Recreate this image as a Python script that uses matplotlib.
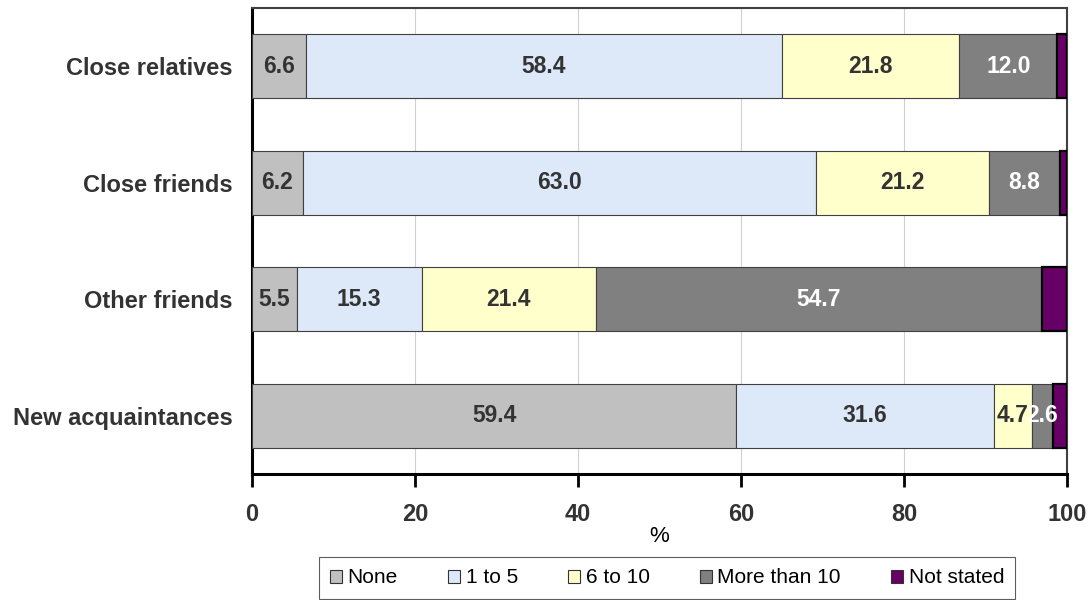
import matplotlib.pyplot as plt
from matplotlib.patches import Patch

plt.rcParams['font.family'] = ['Liberation Sans', 'DejaVu Sans']

# Categories listed bottom to top
categories = ['New acquaintances', 'Other friends', 'Close friends', 'Close relatives']
none_vals = [59.4, 5.5, 6.2, 6.6]
one_to_five = [31.6, 15.3, 63.0, 58.4]
six_to_ten = [4.7, 21.4, 21.2, 21.8]
more_than_ten = [2.6, 54.7, 8.8, 12.0]
not_stated = [1.7, 3.1, 0.8, 1.2]

series = [
    ('None', none_vals, '#C0C0C0', '#333333'),
    ('1 to 5', one_to_five, '#DDE9F8', '#333333'),
    ('6 to 10', six_to_ten, '#FFFFCC', '#333333'),
    ('More than 10', more_than_ten, '#808080', 'white'),
    ('Not stated', not_stated, '#660066', None),
]

fig = plt.figure(figsize=(10.92, 6), dpi=100)
ax = fig.add_axes([252 / 1092, 1 - 474 / 600, 815 / 1092, 466 / 600])

y = list(range(len(categories)))
left = [0.0] * len(categories)
for name, vals, color, txt in series:
    edge = 'black' if name == 'Not stated' else '#404040'
    lw = 1.6 if name == 'Not stated' else 0.8
    ax.barh(y, vals, left=left, height=0.55, color=color, edgecolor=edge,
            linewidth=lw, zorder=3)
    if txt is not None:
        for i, v in enumerate(vals):
            ax.text(left[i] + v / 2, y[i], f'{v:.1f}', ha='center', va='center',
                    fontsize=16.5, fontweight='bold', color=txt, zorder=4)
    left = [l + v for l, v in zip(left, vals)]

ax.set_xlim(0, 100)
ax.set_ylim(-0.5, len(categories) - 0.5)
ax.set_xticks([0, 20, 40, 60, 80, 100])
ax.set_yticks(y)
ax.set_yticklabels(categories)
ax.grid(axis='x', color='#D0D0D0', linewidth=0.8, zorder=0)
ax.tick_params(axis='y', length=0, pad=14, labelsize=17)
ax.tick_params(axis='x', length=9, width=2, direction='out', pad=12, labelsize=17)
for lab in ax.get_xticklabels() + ax.get_yticklabels():
    lab.set_fontweight('bold')
    lab.set_color('#333333')
ax.set_xlabel('%', fontsize=16, color='black', labelpad=0)

for side in ['left', 'bottom']:
    ax.spines[side].set_linewidth(2.2)
for side in ['top', 'right']:
    ax.spines[side].set_linewidth(1.5)
    ax.spines[side].set_color('#404040')

handles = [Patch(facecolor=c, edgecolor='#333333', linewidth=0.8, label=n)
           for n, _, c, _ in series]
leg = fig.legend(handles=handles, loc='upper center', ncol=5,
                 bbox_to_anchor=(667 / 1092, 1 - 557 / 600), fontsize=15,
                 frameon=True, fancybox=False, edgecolor='#333333',
                 handlelength=0.6, handleheight=0.6, handletextpad=0.25,
                 columnspacing=2.4, borderpad=0.55, borderaxespad=0)
leg.get_frame().set_linewidth(0.8)

fig.savefig('out.png', dpi=100)
